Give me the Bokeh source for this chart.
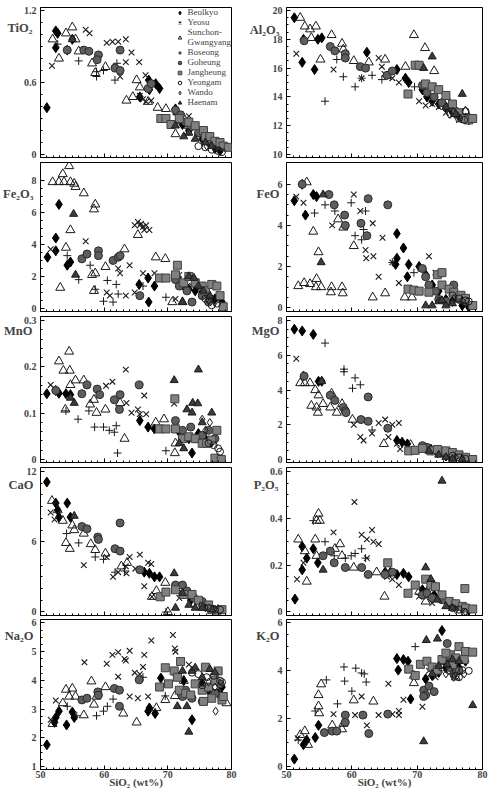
import json
from bokeh.plotting import figure
from bokeh.layouts import gridplot
from bokeh.models import (Range1d, FixedTicker, Legend, LegendItem, LinearAxis,
                          NumeralTickFormatter, CustomJSTickFormatter)
from bokeh.embed import file_html
from bokeh.resources import INLINE

# ---------------- categories / ticks ----------------
SERIES = ["Beolkyo", "Yeosu", "Sunchon-Gwangyang", "Boseong", "Goheung",
          "Jangheung", "Yeongam", "Wando", "Haenam"]
LEGEND_LABELS = ["Beolkyo", "Yeosu", "Sunchon-\nGwangyang", "Boseong", "Goheung",
                 "Jangheung", "Yeongam", "Wando", "Haenam"]
X_TICKS = [50, 60, 70, 80]
X_TITLE = "SiO\u2082 (wt%)"

# ---------------- data: (SiO2 list, oxide list) per series ----------------
TIO2 = {
    "Beolkyo": ([51.0, 52.4, 52.7, 52.4, 54.2, 55.0, 67.0, 68.1, 67.1, 68.7, 65.6, 71.2, 71.5, 72.3, 73.3, 75.4, 76.4, 77.4, 78.2],
                [0.39, 1.03, 1.01, 0.89, 0.87, 0.96, 0.62, 0.59, 0.54, 0.55, 0.48, 0.38, 0.34, 0.25, 0.20, 0.13, 0.10, 0.06, 0.03]),
    "Yeosu": ([51.8, 57.1, 57.7, 60.4, 61.3, 62.2, 63.4, 62.5, 63.4, 64.3, 65.5, 66.5, 65.6, 66.1, 66.6, 67.4, 71.2, 71.8, 73.3, 74.1],
              [0.74, 1.04, 1.01, 0.93, 0.94, 0.94, 0.96, 0.65, 0.77, 0.85, 0.77, 0.66, 0.49, 0.46, 0.44, 0.45, 0.35, 0.27, 0.32, 0.24]),
    "Sunchon-Gwangyang": ([51.9, 52.9, 54.0, 55.0, 55.5, 56.0, 58.1, 58.6, 60.2, 63.5, 64.5, 65.1, 65.6, 66.9, 68.4, 69.7, 71.2, 72.3, 73.3],
                          [0.96, 0.80, 1.01, 1.06, 0.96, 0.86, 0.76, 0.68, 0.73, 0.45, 0.48, 0.62, 0.56, 0.44, 0.39, 0.38, 0.17, 0.32, 0.24]),
    "Boseong": ([52.7, 56.0, 58.8, 59.9, 61.7, 62.0, 58.8],
                [0.92, 0.78, 0.65, 0.70, 0.62, 0.76, 0.69]),
    "Goheung": ([54.2, 56.8, 57.6, 59.1, 58.9, 61.7, 62.5, 62.5, 66.9, 67.4, 71.2, 72.0, 72.8, 73.6, 74.8, 75.9, 76.6, 77.7],
                [0.87, 0.87, 0.86, 0.83, 0.79, 0.72, 0.70, 0.87, 0.55, 0.59, 0.37, 0.33, 0.27, 0.23, 0.18, 0.13, 0.10, 0.07]),
    "Jangheung": ([68.9, 69.7, 70.5, 71.8, 73.3, 74.3, 75.6, 75.9, 76.6, 77.4, 78.2, 78.7, 79.5],
                  [0.30, 0.30, 0.25, 0.30, 0.27, 0.24, 0.20, 0.15, 0.15, 0.11, 0.10, 0.07, 0.06]),
    "Yeongam": ([74.8, 75.9, 76.9, 77.9, 78.5], [0.07, 0.06, 0.04, 0.03, 0.02]),
    "Wando": ([76.1, 77.4, 78.2], [0.07, 0.04, 0.03]),
    "Haenam": ([55.0, 71.2, 72.5, 73.3, 74.3, 75.9, 76.9], [0.96, 0.24, 0.15, 0.18, 0.13, 0.10, 0.07]),
}

AL2O3 = {
    "Beolkyo": ([51.2, 52.6, 52.4, 54.3, 54.8, 55.4, 62.3, 66.9, 68.2, 68.7, 70.8, 71.5, 72.3, 73.3, 74.4, 75.4, 76.4, 77.4, 77.9],
                [19.5, 18.0, 16.4, 15.9, 18.0, 18.1, 17.1, 15.9, 15.3, 15.0, 14.5, 14.0, 13.7, 13.5, 13.3, 13.0, 12.8, 12.5, 12.4]),
    "Yeosu": ([51.5, 57.2, 61.5, 62.2, 64.1, 64.6, 65.0, 65.6, 66.2, 67.2, 70.3, 71.3, 72.3, 73.3, 74.4, 75.4, 76.4, 77.7],
              [17.0, 15.9, 15.3, 16.0, 16.7, 16.1, 15.6, 15.4, 15.3, 15.0, 13.7, 13.4, 13.5, 13.3, 12.9, 12.7, 12.4, 12.3]),
    "Sunchon-Gwangyang": ([52.1, 52.8, 53.6, 54.5, 53.8, 55.2, 56.9, 58.5, 58.7, 60.3, 62.6, 65.1, 68.2, 69.5, 71.2, 72.6, 74.4, 77.4],
                          [19.5, 18.9, 18.7, 18.9, 18.1, 16.6, 18.3, 17.7, 17.3, 16.5, 16.4, 16.6, 16.1, 18.3, 17.4, 15.8, 14.0, 13.0]),
    "Boseong": ([55.9, 58.7, 57.7, 60.5, 61.5, 63.1, 64.6, 69.6],
                [13.7, 15.4, 16.6, 14.7, 15.3, 15.5, 15.2, 14.7]),
    "Goheung": ([52.7, 56.7, 57.4, 59.0, 59.0, 61.3, 62.1, 65.4, 66.2, 70.8, 71.5, 72.6, 73.8, 74.9, 75.9],
                [17.9, 17.5, 17.2, 17.0, 16.7, 16.1, 16.0, 15.5, 15.8, 14.8, 14.3, 14.0, 13.6, 13.3, 13.0]),
    "Jangheung": ([68.6, 69.7, 70.3, 71.3, 72.3, 73.3, 74.4, 75.4, 76.4, 77.2, 77.9, 78.5],
                  [14.2, 16.2, 16.2, 14.9, 14.7, 14.5, 14.1, 13.5, 12.9, 12.5, 12.4, 12.5]),
    "Yeongam": ([75.4, 77.4, 76.4, 77.2], [13.0, 13.0, 12.5, 12.4]),
    "Wando": ([74.9, 76.2], [12.8, 12.7]),
    "Haenam": ([71.0, 72.3, 76.9, 74.4, 75.9], [16.0, 16.8, 14.2, 13.3, 12.8]),
}

FE2O3 = {
    "Beolkyo": ([51.1, 52.4, 52.4, 52.9, 54.2, 54.7, 65.5, 66.9, 67.0, 67.9, 71.5, 72.5, 73.3, 74.3, 75.4, 76.4, 77.4, 78.5],
                [3.2, 3.6, 4.4, 6.5, 2.7, 2.9, 1.5, 1.9, 0.4, 1.4, 1.9, 1.4, 1.2, 1.1, 1.0, 0.8, 0.6, 0.4]),
    "Yeosu": ([51.6, 57.1, 60.4, 60.9, 62.2, 62.5, 64.0, 63.4, 64.8, 65.3, 65.6, 65.8, 66.1, 66.3, 66.6, 67.1, 64.8, 66.1, 67.9, 71.8, 71.2, 73.8],
              [3.7, 4.2, 1.0, 0.8, 2.5, 2.2, 2.7, 0.8, 1.0, 5.4, 5.2, 5.3, 5.1, 4.9, 5.2, 4.9, 5.2, 2.2, 2.2, 2.1, 0.6, 1.4]),
    "Sunchon-Gwangyang": ([51.9, 52.9, 53.5, 53.7, 54.5, 54.7, 55.3, 55.5, 56.8, 58.6, 58.4, 53.1, 54.0, 54.7, 58.1, 58.6, 58.4, 60.2, 63.2, 65.3, 68.1, 69.6, 70.7, 72.3],
                          [7.9, 7.9, 8.4, 7.9, 8.9, 7.9, 7.8, 7.6, 7.2, 6.5, 6.2, 1.3, 3.8, 4.9, 2.1, 2.2, 1.1, 2.6, 3.7, 4.6, 3.2, 3.1, 0.4, 0.4]),
    "Boseong": ([54.2, 56.0, 57.8, 58.6, 59.9, 60.5, 61.9, 61.4, 62.2, 69.7, 66.1],
                [3.3, 1.8, 2.7, 1.2, 0.45, 1.75, 1.5, 0.4, 0.9, 0.7, 1.4]),
    "Goheung": ([56.5, 57.3, 59.1, 59.1, 61.4, 62.2, 62.5, 65.6, 71.2, 71.8, 73.0, 73.8, 75.4, 76.4],
                [3.1, 3.4, 3.6, 3.3, 3.0, 3.2, 3.3, 0.8, 1.8, 1.4, 1.1, 0.4, 0.8, 0.4]),
    "Jangheung": ([68.7, 69.7, 71.2, 71.5, 72.5, 73.3, 74.3, 75.4, 75.9, 76.9, 77.7, 78.2, 78.7],
                  [1.9, 1.9, 2.1, 2.7, 1.6, 2.0, 1.6, 1.4, 1.1, 1.5, 1.4, 0.8, 0.1]),
    "Yeongam": ([75.9, 76.9, 77.7], [0.6, 0.2, 0.3]),
    "Wando": ([76.4, 77.4], [0.5, 0.4]),
    "Haenam": ([55.2, 55.5, 72.3, 73.3, 74.1, 74.8, 75.6, 76.6], [5.9, 2.1, 0.4, 2.0, 1.9, 1.4, 1.1, 0.8]),
}

FEO = {
    "Beolkyo": ([51.2, 52.4, 52.9, 54.1, 54.6, 66.9, 67.9, 66.9, 66.7, 68.7, 68.5, 70.3, 71.3, 72.3, 73.3, 74.4, 75.4, 76.9, 77.9],
                [5.2, 6.0, 4.5, 5.5, 5.4, 3.6, 2.9, 2.4, 2.1, 2.1, 1.5, 2.0, 1.6, 1.1, 0.8, 0.4, 0.3, 0.1, 0.03]),
    "Yeosu": ([51.5, 52.6, 57.0, 60.3, 61.3, 63.2, 62.1, 62.2, 63.3, 64.1, 64.7, 66.2, 67.2, 70.5, 71.8, 72.8],
              [5.4, 5.1, 4.0, 5.5, 4.7, 4.1, 2.8, 2.4, 2.5, 1.5, 3.4, 2.2, 1.2, 1.9, 2.5, 1.7]),
    "Sunchon-Gwangyang": ([53.1, 51.8, 52.7, 53.6, 54.1, 54.5, 54.9, 54.6, 55.3, 56.9, 56.8, 58.5, 58.6, 57.9, 58.7, 60.3, 63.2, 65.1, 68.1, 69.2],
                          [6.1, 1.05, 1.2, 1.15, 3.7, 1.0, 2.7, 1.4, 1.0, 1.0, 0.75, 1.0, 0.7, 4.3, 3.9, 3.0, 0.5, 0.7, 0.5, 0.5]),
    "Boseong": ([54.3, 55.9, 57.4, 59.9, 60.5, 61.5, 61.8, 62.1, 66.2, 69.5],
                [4.6, 5.0, 4.7, 5.1, 3.5, 3.3, 3.8, 4.7, 2.2, 1.7]),
    "Goheung": ([52.4, 56.5, 57.3, 58.9, 59.0, 61.4, 62.5, 62.3, 65.5, 70.8, 71.3, 71.8, 72.8, 73.3, 74.4, 75.6, 76.4, 77.4],
                [6.0, 5.5, 5.0, 4.5, 4.0, 4.1, 5.3, 3.5, 5.0, 1.9, 1.5, 1.1, 0.8, 0.4, 0.3, 1.1, 0.4, 0.3]),
    "Jangheung": ([68.6, 69.5, 70.3, 71.8, 73.1, 73.8, 73.8, 74.9, 75.6, 76.7, 77.4, 78.5],
                  [0.9, 0.85, 0.8, 0.75, 1.6, 1.7, 1.1, 0.9, 0.75, 0.6, 0.45, 0.1]),
    "Yeongam": ([75.4, 76.4, 77.4, 77.9], [0.6, 0.45, 0.35, 0.3]),
    "Wando": ([75.6, 76.9], [0.45, 0.35]),
    "Haenam": ([55.3, 55.6, 71.3, 72.3, 73.3, 74.4, 75.4, 73.8], [2.2, 5.5, 0.1, 0.1, 0.3, 0.1, 0.2, 0.35]),
}

MNO = {
    "Beolkyo": ([51.0, 52.4, 52.9, 54.0, 54.7, 65.6, 66.9, 67.9, 73.8, 71.8, 72.5, 73.3, 74.8, 75.9, 76.9],
                [0.142, 0.149, 0.143, 0.142, 0.140, 0.084, 0.070, 0.066, 0.014, 0.059, 0.049, 0.045, 0.056, 0.045, 0.038]),
    "Yeosu": ([51.6, 52.4, 60.3, 61.3, 63.4, 63.5, 64.3, 65.3, 65.6, 66.3, 66.6, 71.2, 71.0, 72.3, 73.3],
              [0.161, 0.150, 0.159, 0.168, 0.194, 0.122, 0.101, 0.108, 0.098, 0.138, 0.098, 0.070, 0.121, 0.056, 0.052]),
    "Sunchon-Gwangyang": ([52.9, 53.6, 54.6, 54.5, 53.9, 54.7, 55.5, 56.8, 57.8, 58.4, 58.8, 60.2, 62.5, 63.2, 68.1, 69.4, 71.1, 71.2, 72.5],
                          [0.212, 0.192, 0.192, 0.233, 0.108, 0.161, 0.171, 0.171, 0.119, 0.129, 0.101, 0.108, 0.122, 0.045, 0.080, 0.087, 0.014, 0.035, 0.052]),
    "Boseong": ([54.0, 55.9, 57.6, 58.5, 59.9, 60.8, 61.6, 61.9, 62.1, 69.7],
                [0.105, 0.087, 0.105, 0.070, 0.070, 0.063, 0.059, 0.073, 0.014, 0.019]),
    "Goheung": ([52.4, 56.5, 57.3, 58.9, 59.3, 61.6, 62.5, 62.4, 65.5, 71.2, 72.3, 73.6, 74.3, 75.4, 76.4, 77.4],
                [0.149, 0.142, 0.161, 0.152, 0.140, 0.129, 0.140, 0.108, 0.161, 0.084, 0.063, 0.070, 0.045, 0.052, 0.063, 0.045]),
    "Jangheung": ([68.7, 69.7, 71.2, 71.1, 72.3, 73.3, 74.3, 75.4, 76.1, 76.9, 77.7, 77.4, 78.4],
                  [0.066, 0.066, 0.066, 0.131, 0.045, 0.049, 0.045, 0.035, 0.035, 0.042, 0.063, 0.003, 0.0]),
    "Yeongam": ([76.4, 77.2, 77.9, 78.2], [0.035, 0.031, 0.024, 0.017]),
    "Wando": ([75.4, 76.6, 75.9], [0.087, 0.080, 0.063]),
    "Haenam": ([54.7, 55.3, 71.0, 71.8, 72.5, 73.0, 73.9, 74.7, 74.8, 76.9, 75.4, 73.8],
               [0.133, 0.122, 0.171, 0.035, 0.024, 0.108, 0.122, 0.121, 0.194, 0.101, 0.080, 0.101]),
}

MGO = {
    "Beolkyo": ([51.2, 52.4, 54.1, 52.6, 54.9, 55.4, 66.9, 67.7, 68.5, 70.8, 72.1, 73.1, 74.4, 75.4, 76.9, 77.9],
                [7.5, 7.4, 7.2, 4.8, 4.5, 4.5, 1.1, 1.0, 0.9, 0.7, 0.6, 0.4, 0.2, 0.13, 0.04, 0.0]),
    "Yeosu": ([51.5, 60.3, 61.3, 61.8, 63.1, 64.1, 65.1, 66.2, 67.2, 65.6, 66.9, 67.4],
              [5.8, 2.0, 1.3, 1.1, 1.5, 2.1, 2.3, 2.0, 2.1, 1.3, 0.9, 0.6]),
    "Sunchon-Gwangyang": ([52.1, 52.8, 53.6, 54.4, 54.9, 53.8, 54.6, 54.8, 55.6, 56.7, 57.7, 56.9, 58.5, 60.1, 64.9, 69.0],
                          [4.4, 4.4, 4.4, 4.0, 3.7, 3.1, 3.0, 2.7, 3.2, 3.0, 2.7, 3.8, 3.2, 2.3, 0.9, 0.85]),
    "Boseong": ([55.9, 58.8, 58.8, 60.5, 61.3, 60.1, 63.1], [6.7, 5.2, 5.05, 4.7, 4.3, 4.1, 1.7]),
    "Goheung": ([52.7, 56.7, 57.4, 58.7, 59.0, 59.1, 61.4, 62.5, 62.5, 65.5, 70.8, 71.5, 72.3, 73.8],
                [4.8, 3.7, 3.4, 3.0, 2.8, 2.7, 2.3, 2.2, 3.6, 1.8, 0.8, 0.7, 0.5, 0.4]),
    "Jangheung": ([68.7, 69.7, 70.8, 72.1, 73.1, 74.4, 75.4, 76.4, 77.4, 78.5],
                  [0.5, 0.53, 0.64, 0.5, 0.58, 0.5, 0.4, 0.27, 0.13, 0.0]),
    "Yeongam": ([75.4, 76.4, 77.4], [0.22, 0.13, 0.04]),
    "Wando": ([75.9, 76.9], [0.13, 0.07]),
    "Haenam": ([55.4, 71.8, 73.3, 74.4, 75.4, 76.9], [4.5, 0.5, 0.27, 0.13, 0.04, 0.0]),
}

CAO = {
    "Beolkyo": ([51.0, 52.4, 54.2, 52.7, 52.9, 54.7, 66.3, 67.1, 67.9, 68.7, 71.2, 72.5, 73.6, 75.4, 76.4, 77.9],
                [11.1, 9.3, 9.3, 8.7, 8.1, 8.1, 3.4, 3.3, 3.0, 3.0, 2.2, 1.6, 1.0, 0.6, 0.5, 0.2]),
    "Yeosu": ([51.6, 52.2, 56.8, 60.4, 61.4, 62.2, 63.4, 63.5, 64.0, 64.9, 65.6, 66.3, 66.9, 67.4, 67.5, 71.2, 71.8],
              [8.5, 7.9, 4.0, 4.7, 3.0, 3.4, 3.9, 3.3, 4.7, 3.7, 4.9, 2.2, 4.2, 4.1, 1.3, 2.2, 1.2]),
    "Sunchon-Gwangyang": ([51.8, 52.7, 53.5, 54.0, 54.6, 55.0, 55.3, 56.8, 57.9, 58.6, 60.2, 62.7, 63.6, 67.5, 68.2, 69.6, 70.0],
                          [9.5, 8.7, 7.8, 5.9, 5.4, 7.4, 7.0, 6.7, 5.8, 5.3, 5.0, 3.9, 4.2, 1.3, 1.8, 2.5, 0.0]),
    "Boseong": ([54.1, 56.0, 58.6, 59.9, 61.7, 63.2, 69.7], [6.7, 5.9, 4.7, 4.5, 3.4, 3.5, 0.0]),
    "Goheung": ([56.5, 57.3, 59.0, 59.1, 62.5, 61.7, 62.5, 65.6, 71.2, 72.3, 73.0, 74.1, 75.4, 76.4],
                [7.3, 7.1, 6.4, 6.2, 7.6, 5.4, 5.2, 3.6, 2.3, 2.3, 1.8, 1.2, 0.9, 0.5]),
    "Jangheung": ([68.8, 69.7, 71.2, 72.5, 73.8, 74.8, 75.6, 76.4, 76.9, 77.7, 78.5],
                  [1.3, 1.7, 1.9, 1.5, 1.5, 1.0, 0.5, 0.6, 0.2, 0.0, 0.2]),
    "Yeongam": ([75.4, 76.4, 77.4, 78.2], [0.5, 0.35, 0.2, 0.2]),
    "Wando": ([75.9, 77.2], [0.35, 0.25]),
    "Haenam": ([55.3, 71.0, 71.2, 72.3, 73.3, 74.3, 75.4, 76.9], [8.2, 3.3, 0.35, 1.6, 0.6, 0.35, 0.35, 0.2]),
}

P2O5 = {
    "Beolkyo": ([51.3, 52.4, 52.4, 53.1, 54.1, 54.8, 65.1, 65.9, 66.9, 67.9, 68.7, 70.8, 71.5, 72.6, 73.8, 74.9, 75.9, 76.9, 77.9],
                [0.055, 0.18, 0.28, 0.23, 0.27, 0.21, 0.17, 0.17, 0.16, 0.165, 0.15, 0.095, 0.087, 0.073, 0.06, 0.038, 0.031, 0.017, 0.007]),
    "Yeosu": ([51.6, 52.6, 57.2, 60.4, 61.5, 62.3, 63.1, 63.3, 64.1, 62.3, 65.4, 66.2, 67.2, 70.3, 71.5, 72.3],
              [0.14, 0.21, 0.34, 0.47, 0.33, 0.31, 0.35, 0.30, 0.29, 0.23, 0.15, 0.14, 0.115, 0.066, 0.066, 0.038]),
    "Sunchon-Gwangyang": ([51.8, 53.1, 52.8, 54.4, 54.9, 54.6, 55.1, 54.6, 57.4, 58.2, 58.5, 60.3, 63.8, 65.0, 71.3, 70.3],
                          [0.31, 0.13, 0.26, 0.31, 0.42, 0.39, 0.39, 0.24, 0.27, 0.29, 0.24, 0.19, 0.17, 0.066, 0.045, 0.087]),
    "Boseong": ([54.1, 55.9, 57.3, 59.0, 59.9, 60.5, 61.5, 62.1], [0.39, 0.30, 0.24, 0.23, 0.24, 0.25, 0.27, 0.23]),
    "Goheung": ([55.6, 56.7, 57.3, 59.0, 61.5, 62.5, 65.1, 66.2, 70.8, 71.5, 72.3, 73.8, 74.9, 76.2],
                [0.24, 0.26, 0.21, 0.19, 0.19, 0.16, 0.16, 0.17, 0.073, 0.08, 0.06, 0.052, 0.038, 0.024]),
    "Jangheung": ([65.5, 68.6, 69.7, 71.3, 72.1, 72.8, 73.8, 74.9, 75.9, 76.9, 77.4, 77.3, 78.5],
                  [0.21, 0.08, 0.115, 0.14, 0.115, 0.108, 0.073, 0.045, 0.035, 0.024, 0.017, 0.10, 0.013]),
    "Yeongam": ([75.4, 76.4, 77.2], [0.017, 0.01, 0.0]),
    "Wando": ([75.9, 77.4], [0.01, 0.0]),
    "Haenam": ([55.6, 73.8, 71.3, 72.1, 73.1, 74.4, 75.4], [0.18, 0.56, 0.19, 0.14, 0.052, 0.024, 0.017]),
}

NA2O = {
    "Beolkyo": ([51.0, 52.2, 52.4, 52.9, 54.1, 55.0, 55.3, 66.9, 67.1, 68.0, 68.9, 73.8, 71.2, 72.5, 75.4, 76.4, 77.9, 78.5],
                [1.76, 2.54, 2.71, 2.93, 2.45, 2.90, 2.71, 2.93, 3.04, 2.85, 4.08, 2.63, 4.22, 3.99, 3.88, 3.66, 3.55, 3.77]),
    "Yeosu": ([51.6, 52.4, 56.9, 60.4, 61.3, 62.2, 63.2, 63.4, 64.0, 62.2, 64.8, 65.6, 66.3, 66.1, 67.4, 65.3, 64.0, 66.9, 70.8, 71.1, 71.2, 73.3, 72.5],
              [2.63, 3.30, 4.63, 4.58, 4.89, 4.98, 4.75, 4.69, 5.03, 4.13, 4.27, 4.22, 4.89, 4.47, 5.39, 3.38, 3.44, 3.44, 5.58, 5.11, 5.0, 4.55, 3.66]),
    "Sunchon-Gwangyang": ([51.9, 54.0, 55.0, 53.5, 54.5, 55.5, 56.8, 58.0, 58.4, 58.8, 60.2, 63.0, 65.1, 68.2, 69.6, 71.1, 72.5, 79.2],
                          [2.49, 3.68, 3.72, 3.21, 3.44, 3.44, 2.79, 3.97, 3.16, 3.44, 3.77, 2.85, 2.54, 3.04, 3.32, 3.46, 3.99, 3.21]),
    "Boseong": ([54.2, 55.7, 58.8, 59.9, 60.5, 61.4, 69.6, 66.1], [3.10, 2.77, 2.77, 2.93, 3.10, 3.35, 3.46, 4.11]),
    "Goheung": ([56.5, 57.3, 59.0, 59.1, 61.6, 62.4, 62.4, 65.5, 72.3, 72.8, 73.8, 75.4, 76.1, 77.4, 78.2],
                [3.32, 3.38, 3.60, 3.49, 3.72, 3.66, 3.10, 4.02, 3.44, 3.66, 3.38, 3.27, 3.72, 3.55, 3.88]),
    "Jangheung": ([68.7, 69.6, 70.1, 71.0, 71.5, 72.0, 71.8, 72.8, 73.6, 74.3, 75.4, 75.6, 76.4, 75.9, 76.9, 77.4, 77.9, 78.5, 78.7],
                  [3.77, 4.44, 3.88, 4.33, 4.11, 4.66, 3.66, 3.55, 3.49, 3.88, 3.66, 3.27, 3.77, 4.46, 3.38, 3.99, 4.33, 3.32, 3.44]),
    "Yeongam": ([73.8, 74.8, 75.4, 76.1, 77.2, 78.2, 78.5], [4.27, 4.22, 3.83, 4.11, 4.16, 3.99, 3.94]),
    "Wando": ([75.4, 76.4, 77.4, 77.5], [3.94, 3.94, 3.77, 2.93]),
    "Haenam": ([71.5, 72.3, 73.0, 73.3, 73.8, 74.3, 75.4, 76.6, 77.4], [3.10, 4.33, 3.10, 2.21, 4.33, 4.44, 4.11, 4.39, 4.27]),
}

K2O = {
    "Beolkyo": ([51.2, 52.6, 53.1, 54.4, 54.9, 66.9, 67.1, 67.9, 68.6, 69.0, 73.8, 71.3, 72.3, 73.3, 74.4, 75.4, 76.4, 77.4],
                [0.31, 0.91, 1.11, 1.21, 1.72, 4.51, 4.03, 4.47, 4.40, 2.82, 5.68, 3.66, 3.80, 3.93, 4.13, 4.27, 4.13, 4.40]),
    "Yeosu": ([51.7, 57.2, 60.5, 61.5, 62.3, 64.1, 65.6, 66.2, 67.2, 67.2, 67.9, 70.8, 71.8, 72.8],
              [1.18, 2.19, 2.15, 2.93, 1.72, 2.15, 3.46, 2.19, 2.32, 2.15, 2.79, 2.50, 4.00, 3.73]),
    "Sunchon-Gwangyang": ([52.1, 52.8, 53.3, 54.9, 54.9, 55.0, 55.3, 57.0, 58.5, 58.7, 60.3, 63.3, 69.5, 69.5, 75.9],
                          [1.32, 1.48, 0.91, 2.99, 2.52, 2.23, 3.44, 1.72, 1.56, 1.79, 2.77, 2.72, 3.49, 3.80, 3.73]),
    "Boseong": ([51.8, 54.4, 56.1, 57.8, 58.8, 58.9, 60.6, 61.5, 61.9, 62.2, 60.0, 69.7],
                [1.11, 2.32, 3.62, 2.62, 4.16, 3.57, 4.11, 3.91, 3.87, 3.53, 3.15, 5.01]),
    "Goheung": ([55.8, 57.0, 57.7, 59.0, 59.0, 61.7, 62.6, 65.5, 71.0, 71.3, 71.0, 71.8, 72.6, 74.6, 74.4, 75.1, 75.6, 76.4],
                [1.42, 1.48, 1.48, 2.15, 1.85, 2.15, 1.38, 2.19, 3.19, 2.99, 2.93, 3.36, 3.13, 5.14, 4.40, 4.13, 3.87, 4.00]),
    "Jangheung": ([68.7, 69.7, 70.5, 71.5, 72.3, 73.1, 73.8, 75.1, 75.9, 76.4, 77.4, 78.5, 74.4, 75.4, 77.2],
                  [4.07, 3.80, 4.27, 4.40, 4.16, 4.03, 4.47, 4.67, 4.54, 5.01, 4.81, 4.78, 4.74, 4.27, 4.47]),
    "Yeongam": ([73.8, 74.9, 75.9, 76.9, 77.9, 76.4], [4.13, 4.00, 3.80, 4.03, 4.00, 3.73]),
    "Wando": ([74.4, 75.6, 77.2], [3.87, 3.73, 3.87]),
    "Haenam": ([71.4, 73.1, 71.0, 78.5, 72.3, 73.3, 74.6, 75.4, 76.4], [5.28, 5.34, 1.05, 2.56, 3.87, 4.20, 4.27, 4.47, 4.40]),
}

# ---------------- styles ----------------
STYLE = {
    "Beolkyo": dict(marker="diamond", size=10, fill_color="black", line_color="black"),
    "Yeosu": dict(marker="x", size=8, line_color="#1a1a1a", line_width=1.1),
    "Sunchon-Gwangyang": dict(marker="triangle", size=9, fill_color=None, line_color="#1a1a1a", line_width=1),
    "Boseong": dict(marker="cross", size=8, line_color="#1a1a1a", line_width=1),
    "Goheung": dict(marker="circle", size=8, fill_color="#5e5e5e", line_color="#2a2a2a"),
    "Jangheung": dict(marker="square", size=8, fill_color="#808080", line_color="#404040"),
    "Yeongam": dict(marker="circle", size=7, fill_color=None, line_color="#1a1a1a"),
    "Wando": dict(marker="diamond", size=8, fill_color=None, line_color="#1a1a1a"),
    "Haenam": dict(marker="triangle", size=8, fill_color="#3c3c3c", line_color="#1a1a1a"),
}

FONT = "Liberation Serif"

# name, data, y-range, major ticks, minor step, y of the oxide name
PANELS = [
    ("TiO\u2082", TIO2, (-0.025, 1.225), [0, 0.6, 1.2], 0.1, 1.051),
    ("Al\u2082O\u2083", AL2O3, (9.79, 20.21), [10, 12, 14, 16, 18, 20], 0.5, 18.63),
    ("Fe\u2082O\u2083", FE2O3, (-0.19, 9.12), [0, 2, 4, 6, 8], 0.5, 7.14),
    ("FeO", FEO, (-0.19, 7.06), [0, 2, 4, 6], 0.5, 5.52),
    ("MnO", MNO, (-0.0064, 0.3086), [0, 0.1, 0.2, 0.3], 0.02, 0.2765),
    ("MgO", MGO, (-0.17, 8.23), [0, 2, 4, 6, 8], 0.5, 7.37),
    ("CaO", CAO, (-0.30, 12.34), [0, 6, 12], 1, 10.81),
    ("P\u2082O\u2085", P2O5, (-0.015, 0.617), [0, 0.2, 0.4, 0.6], 0.05, 0.541),
    ("Na\u2082O", NA2O, (0.90, 6.12), [1, 2, 3, 4, 5, 6], 0.25, 5.535),
    ("K\u2082O", K2O, (-0.124, 6.144), [0, 2, 4, 6], 0.5, 5.44),
]

ROW_H = [160, 154, 151, 152, 184]
TOP = [7, 2, 2, 2, 2]
BOT = [3, 3, 3, 2, 32]
TICK_STANDOFF = 4


def text_w(s):
    # approximate width (px) of a 10px bold serif numeric label
    return sum(2.5 if c == "." else 5.0 for c in s)


def make_panel(idx, spec):
    name, data, yr, yt, ystep, name_y = spec
    row, col = divmod(idx, 2)
    left = col == 0
    last = row == 4
    p = figure(width=245, height=ROW_H[row], x_range=Range1d(50, 80), y_range=Range1d(*yr),
               output_backend="svg", toolbar_location=None,
               min_border_left=37 if left else 41, min_border_right=14 if left else 8,
               min_border_top=TOP[row], min_border_bottom=BOT[row])
    p.grid.visible = False
    p.outline_line_color = "black"
    p.outline_line_width = 1
    p.background_fill_color = "white"
    p.border_fill_color = "white"

    n = int(round((yt[-1] - yt[0]) / ystep))
    yminor = [round(yt[0] + i * ystep, 4) for i in range(n + 1)]
    yax = p.yaxis[0]
    yax.ticker = FixedTicker(ticks=yt, minor_ticks=yminor)
    yax.formatter = NumeralTickFormatter(format="0.[0]")
    yax.major_tick_in = 4
    yax.major_tick_out = 0
    yax.minor_tick_in = 2
    yax.minor_tick_out = 0
    yax.major_label_text_font = FONT
    yax.major_label_text_font_style = "bold"
    yax.major_label_text_font_size = "10px"
    yax.major_label_standoff = TICK_STANDOFF

    # the oxide name: an outer left axis whose single label is pulled back
    # so that it right-aligns with the numeric tick labels
    wmax = max(text_w("%g" % t) for t in yt)
    name_axis = LinearAxis(ticker=FixedTicker(ticks=[name_y], minor_ticks=[]),
                           formatter=CustomJSTickFormatter(code="return %s;" % json.dumps(name)),
                           major_tick_in=0, major_tick_out=0, minor_tick_in=0, minor_tick_out=0,
                           axis_line_color=None, major_label_standoff=-int(round(wmax)),
                           major_label_text_font=FONT, major_label_text_font_style="bold",
                           major_label_text_font_size="12.5px")
    p.add_layout(name_axis, "left")

    xax = p.xaxis[0]
    xax.ticker = FixedTicker(ticks=X_TICKS, minor_ticks=list(range(50, 81)))
    xax.major_tick_in = 4
    xax.major_tick_out = 0
    xax.minor_tick_in = 2
    xax.minor_tick_out = 0
    if last:
        xax.major_label_text_font = FONT
        xax.major_label_text_font_style = "bold"
        xax.major_label_text_font_size = "10px"
        xax.major_label_standoff = 1
        xax.axis_label = X_TITLE
        xax.axis_label_text_font = FONT
        xax.axis_label_text_font_style = "bold"
        xax.axis_label_text_font_size = "11px"
        xax.axis_label_standoff = -5
    else:
        xax.major_label_text_font_size = "1px"
        xax.major_label_text_color = None
        xax.major_label_standoff = 0

    renderers = []
    for s in SERIES:
        xs, ys = data[s]
        renderers.append(p.scatter(xs, ys, **STYLE[s]))

    if idx == 0:
        items = [LegendItem(label=lab, renderers=[r]) for lab, r in zip(LEGEND_LABELS, renderers)]
        legend = Legend(items=items, location="top_right", margin=0, padding=3, spacing=0,
                        glyph_height=9, glyph_width=12, label_height=9, label_standoff=2,
                        label_text_font=FONT, label_text_font_size="9px",
                        label_text_line_height=1.0,
                        border_line_color=None, background_fill_alpha=0)
        p.add_layout(legend)
    return p


figs = [make_panel(i, spec) for i, spec in enumerate(PANELS)]
grid = gridplot([[figs[0], figs[1]], [figs[2], figs[3]], [figs[4], figs[5]],
                 [figs[6], figs[7]], [figs[8], figs[9]]], toolbar_location=None)

open("out.html", "w").write(file_html(grid, INLINE))
